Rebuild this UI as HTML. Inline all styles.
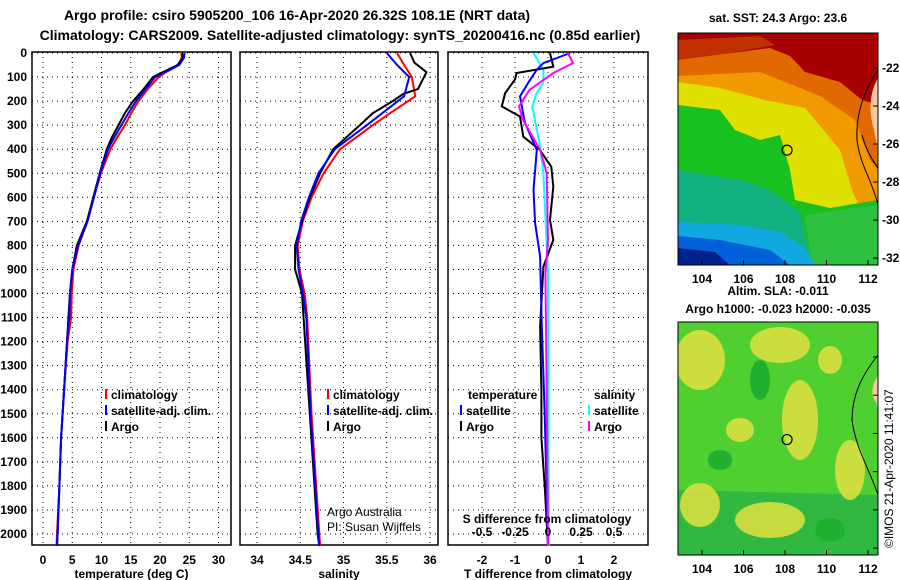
<!DOCTYPE html>
<html><head><meta charset="utf-8"><style>
body{margin:0;background:#fff;}
svg{display:block;font-family:"Liberation Sans",sans-serif;font-weight:bold;}
</style></head><body>
<svg id="c" width="900" height="580" xmlns="http://www.w3.org/2000/svg">
<defs>
<clipPath id="m1"><rect x="678" y="33" width="200" height="232"/></clipPath>
<clipPath id="m2"><rect x="678" y="322" width="200" height="233"/></clipPath>
</defs>
<text x="297" y="20" font-size="14" text-anchor="middle">Argo profile: csiro 5905200_106 16-Apr-2020 26.32S 108.1E (NRT data)</text>
<text x="340" y="40" font-size="14" text-anchor="middle">Climatology: CARS2009. Satellite-adjusted climatology: synTS_20200416.nc (0.85d earlier)</text>
<text x="778" y="22" font-size="12" text-anchor="middle">sat. SST: 24.3 Argo: 23.6</text>
<text x="778" y="295" font-size="12" text-anchor="middle">Altim. SLA: -0.011</text>
<text x="778" y="313" font-size="12" text-anchor="middle">Argo h1000: -0.023 h2000: -0.035</text>
<text transform="translate(893,548) rotate(-90)" font-size="12" font-weight="normal">©IMOS 21-Apr-2020 11:41:07</text>
<g id="plots"></g>
<g id="maps"></g>
</svg>
<script>
const depthTicks=[0,100,200,300,400,500,600,700,800,900,1000,1100,1200,1300,1400,1500,1600,1700,1800,1900,2000];
const tTicks=[0,5,10,15,20,25,30];
const sTicks=[34,34.5,35,35.5,36];
const dTicks=[-2,-1,0,1,2];
const sdTicks=[-0.5,-0.25,0,0.25,0.5];
const tArgoD=[0,20,50,80,100,150,200,250,300,350,400,500,600,700,800,900,1000,1200,1400,1600,1800,2000,2050];
const tArgo=[23.8,23.9,23,20.5,18.8,17.2,15.4,14.0,12.9,11.8,10.9,9.7,8.6,7.5,5.8,5.0,4.6,4.1,3.6,3.1,2.8,2.5,2.4];
const tClimD=[0,20,50,80,100,150,200,250,300,350,400,500,600,700,800,900,1000,1100,1200,1400,1600,1800,2000,2050];
const tClim=[23.7,23.7,23.2,21,19.8,17.9,16.3,15.1,14,12.7,11.5,9.9,8.7,7.6,6.1,5.2,4.9,4.8,4.2,3.6,3.1,2.8,2.4,2.3];
const tSat=[24.2,24.1,23.3,20.8,19.2,17.5,15.9,14.6,13.4,12.2,11.1,9.8,8.7,7.6,6.0,5.0,4.6,4.5,4.1,3.6,3.1,2.8,2.5,2.4];
const sArgoD=[0,40,80,150,170,200,250,300,400,500,600,700,800,900,1000,1500,2000,2050];
const sArgo=[35.77,35.82,35.96,35.86,35.69,35.57,35.34,35.19,34.88,34.73,34.61,34.52,34.44,34.44,34.52,34.61,34.70,34.72];
const sClimD=[0,50,100,180,250,300,400,500,600,700,800,900,1000,1100,1500,2000,2050];
const sClim=[35.62,35.7,35.79,35.83,35.54,35.34,34.96,34.77,34.63,34.53,34.47,34.49,34.55,34.58,34.63,34.72,34.73];
const sSat=[35.5,35.62,35.76,35.7,35.45,35.27,34.9,34.71,34.6,34.51,34.46,34.48,34.53,34.57,34.62,34.71,34.72];
const dArgoD=[0,57,83,110,167,222,264,348,403,473,556,694,777,888,1137,1400,1600,1800,2050];
const dTArgo=[0.06,0.16,-0.95,-1.0,-1.3,-1.4,-0.85,-0.75,-0.25,0.1,0.16,0.06,0.16,-0.14,-0.24,-0.2,-0.2,-0.1,0];
const dSatD=[0,42,69,124,180,290,403,569,707,846,1123,1500,2050];
const dTSat=[0.67,-0.14,-0.34,-0.6,-0.85,-0.7,-0.34,-0.44,-0.39,-0.24,-0.19,-0.1,0];
const dSSatD=[0,69,124,167,222,387,500,640,916,2050];
const dSSat=[-0.11,-0.035,-0.035,-0.086,-0.12,-0.06,-0.035,-0.023,0,0.005];
const dSArgoD=[0,42,83,153,222,277,403,500,777,916,1400,2050];
const dSArgo=[0.15,0.19,0.04,-0.14,-0.22,-0.19,-0.06,-0.01,0.0,-0.02,-0.01,0];

const NS="http://www.w3.org/2000/svg";
const plots=document.getElementById('plots');
function mk(tag,attrs,parent,txt){const e=document.createElementNS(NS,tag);for(const k in attrs)e.setAttribute(k,attrs[k]);if(txt!==undefined)e.textContent=txt;(parent||plots).appendChild(e);return e;}
const Y=d=>53+d*0.2405;
const pTop=52,pBot=545;
const panels=[
 {x0:32,x1:231,fx:v=>43+v*5.85,ticks:tTicks,title:'temperature (deg C)',name:'temperature-panel'},
 {x0:240,x1:438,fx:v=>257+(v-34)*86.5,ticks:sTicks,title:'salinity',name:'salinity-panel'},
 {x0:448,x1:648,fx:v=>548+v*33,ticks:dTicks,title:'T difference from climatology',name:'difference-panel'}
];
const fS=v=>548+v*132;
panels.forEach((p,i)=>{
  const g=mk('g',{});
  
  
  p.g=g;
  p.ticks.forEach(t=>{const x=p.fx(t);
    const l=mk('line',{x1:x,x2:x,y1:pTop,y2:pBot,stroke:'#000','stroke-dasharray':'1 4'},g);
    
    
    const tx=mk('text',{x:x,y:564,'font-size':12,'text-anchor':'middle'},g,String(t));
    
    
  });
  depthTicks.forEach(d=>{
    const l=mk('line',{x1:p.x0,x2:p.x1,y1:Y(d),y2:Y(d),stroke:'#000','stroke-dasharray':'1 4'},g);
    
    
    if(i===0){const tx=mk('text',{x:27,y:Y(d)+4,'font-size':12,'text-anchor':'end'},g,String(d));
      
      }
  });
  const r=mk('rect',{x:p.x0,y:pTop,width:p.x1-p.x0,height:pBot-pTop,fill:'none',stroke:'#000','stroke-width':1.5},g);
  
  
  const at=mk('text',{x:(p.x0+p.x1)/2,y:578,'font-size':12,'text-anchor':'middle'},g,p.title);
  
  
});
function drawLine(p,ds,vs,fx,col,name){
  const pts=ds.map((d,k)=>fx(vs[k]).toFixed(1)+','+Y(d).toFixed(1)).join(' ');
  const pl=mk('polyline',{points:pts,fill:'none',stroke:col,'stroke-width':2},p.g);
  
  
}
const P=panels;
drawLine(P[0],tClimD,tClim,P[0].fx,'#f00','temp-climatology-line');
drawLine(P[0],tArgoD,tArgo,P[0].fx,'#000','temp-argo-line');
drawLine(P[0],tClimD,tSat,P[0].fx,'#00f','temp-satellite-line');
drawLine(P[1],sClimD,sClim,P[1].fx,'#f00','sal-climatology-line');
drawLine(P[1],sArgoD,sArgo,P[1].fx,'#000','sal-argo-line');
drawLine(P[1],sClimD,sSat,P[1].fx,'#00f','sal-satellite-line');
drawLine(P[2],dSSatD,dSSat,fS,'#0ff','sdiff-satellite-line');
drawLine(P[2],dArgoD,dTArgo,P[2].fx,'#000','tdiff-argo-line');
drawLine(P[2],dSatD,dTSat,P[2].fx,'#00f','tdiff-satellite-line');
drawLine(P[2],dSArgoD,dSArgo,fS,'#f0f','sdiff-argo-line');
const sdl=mk('text',{x:547,y:523,'font-size':12,'text-anchor':'middle'},P[2].g,'S difference from climatology');


sdTicks.forEach(t=>{const tx=mk('text',{x:fS(t),y:536,'font-size':12,'text-anchor':'middle'},P[2].g,String(t));
  
  });
function leg(g,x,y,col,txt){
  const l=mk('line',{x1:x,x2:x,y1:y-10,y2:y,stroke:col,'stroke-width':2},g);
  
  
  const t=mk('text',{x:x+5,y:y,'font-size':12},g,txt);
  
  
}
[[0,106],[1,328]].forEach(([i,x])=>{
  leg(P[i].g,x,399,'#f00','climatology');leg(P[i].g,x,415,'#00f','satellite-adj. clim.');leg(P[i].g,x,431,'#000','Argo');});
let t1=mk('text',{x:468,y:399,'font-size':12},P[2].g,'temperature');


let t2=mk('text',{x:594,y:399,'font-size':12},P[2].g,'salinity');


leg(P[2].g,461,415,'#00f','satellite');leg(P[2].g,461,431,'#000','Argo');
leg(P[2].g,589,415,'#0ff','satellite');leg(P[2].g,589,431,'#f0f','Argo');
const aa=mk('text',{x:327,y:516,'font-size':12,'font-weight':'normal'},P[1].g,'Argo Australia');


const pi=mk('text',{x:327,y:531,'font-size':12,'font-weight':'normal'},P[1].g,'PI: Susan Wijffels');



const maps=document.getElementById('maps');
const lats=[-22,-24,-26,-28,-30,-32], lons=[104,106,108,110,112];
function drawMap(y0,h,clip,name,fill,latLabels){
  const g=mk('g',{},maps);
  
  
  const fx=lon=>702+(lon-104)*20.75;
  const fy=lat=>y0+35+(-22-lat)*(h-40)/10.1;
  const c=mk('g',{'clip-path':'url(#'+clip+')'},g);
  fill(c);
  mk('rect',{x:678,y:y0,width:200,height:h,fill:'none',stroke:'#000'},g);
  lats.forEach(l=>{mk('line',{x1:873,x2:878,y1:fy(l),y2:fy(l),stroke:'#000'},g);
    if(latLabels){const t=mk('text',{x:882,y:fy(l)+4,'font-size':12},g,String(l));
    }});
  lons.forEach(l=>{mk('line',{x1:fx(l),x2:fx(l),y1:y0+h-5,y2:y0+h,stroke:'#000'},g);
    const t=mk('text',{x:fx(l),y:y0+h+18,'font-size':12,'text-anchor':'middle'},g,String(l));
    });
  const m=mk('circle',{cx:fx(108.1),cy:fy(-26.32),r:5,fill:'none',stroke:'#000','stroke-width':1.2},g);
  
  
}
function poly(c,pts,col){mk('polygon',{points:pts,fill:col},c);}
drawMap(33,232,'m1','sst-map',c=>{
  mk('rect',{x:678,y:33,width:200,height:232,fill:'#a80000'},c);
  poly(c,'678,40 760,36 775,45 678,62','#c03000');
  poly(c,'678,60 770,48 790,56 805,72 840,82 862,100 878,105 878,265 678,265','#e06a00');
  poly(c,'678,76 760,72 820,96 855,120 870,160 878,170 878,265 678,265','#f09a00');
  poly(c,'678,82 720,88 765,100 805,108 840,150 852,190 860,208 878,212 878,265 678,265','#e0e000');
  poly(c,'678,105 720,110 735,130 760,140 780,135 790,170 795,200 830,208 878,200 878,265 678,265','#18c020');
  poly(c,'678,170 740,180 770,190 800,212 812,265 678,265','#10b080');
  poly(c,'812,265 805,215 840,210 878,205 878,265','#30c040');
  poly(c,'678,222 740,225 780,232 805,248 815,265 678,265','#10a8e0');
  poly(c,'678,236 720,240 770,250 790,265 678,265','#0060d8');
  poly(c,'678,248 715,252 730,265 678,265','#002090');
  mk('path',{d:'M878,78 C870,92 868,110 874,130 L878,150 Z',fill:'#f8c8a0'},c);
  mk('path',{d:'M878,70 C862,95 856,115 857,140 C860,165 872,180 878,205',fill:'none',stroke:'#000'},c);
  mk('path',{d:'M862,135 C866,150 872,160 878,168',fill:'none',stroke:'#000'},c);
},true);
drawMap(322,233,'m2','sla-map',c=>{
  mk('rect',{x:678,y:322,width:200,height:233,fill:'#50d030'},c);
  poly(c,'678,490 878,495 878,555 678,555','#30b840');
  [[700,360,25,30],[780,345,30,18],[740,430,14,12],[800,420,18,40],[700,505,20,22],[770,520,35,18],[850,470,15,30],[830,360,12,14]].forEach(e=>mk('ellipse',{cx:e[0],cy:e[1],rx:e[2],ry:e[3],fill:'#e0e040',opacity:0.85},c));
  [[760,380,10,20],[720,460,12,10],[830,530,15,12]].forEach(e=>mk('ellipse',{cx:e[0],cy:e[1],rx:e[2],ry:e[3],fill:'#20b030'},c));
  mk('path',{d:'M878,375 C872,385 870,395 876,402 L878,410 Z',fill:'#f8c8a0'},c);
  mk('path',{d:'M878,355 C862,375 852,395 852,420 C856,450 870,470 878,495',fill:'none',stroke:'#000'},c);
},false);
</script>
</body></html>
